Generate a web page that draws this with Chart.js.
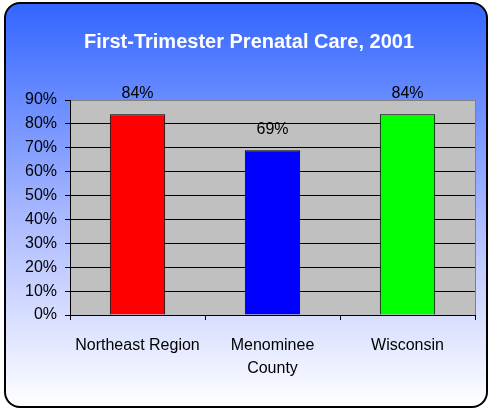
<!DOCTYPE html>
<html>
<head>
<meta charset="utf-8">
<script src="https://cdn.jsdelivr.net/npm/chart.js@4/dist/chart.umd.min.js"></script>
<style>
    html, body { margin: 0; padding: 0; background: #fff; }
    #frame {
        position: absolute; left: 4px; top: 2px;
        width: 480px; height: 402px;
        border: 2px solid #000; border-radius: 16px;
        background: linear-gradient(#3366ff 0%, #aebcff 55%, #ffffff 100%);
    }
    #wrap { position: absolute; left: 0; top: 0; width: 489px; height: 409px; }
</style>
</head>
<body>
<div id="frame"></div>
<div id="wrap"><canvas id="chart" width="489" height="409"></canvas></div>
<script>
// Chart data
const categories = ['Northeast Region', ['Menominee', 'County'], 'Wisconsin'];
const careValues = [84, 69, 84];
const barColors = ['#ff0000', '#0000ff', '#00ff00'];
const yTicks = [0, 10, 20, 30, 40, 50, 60, 70, 80, 90];

const FONT = 'Arial, "Liberation Sans", sans-serif';

// Gray plot background plus the gray right edge
const plotBackground = {
    id: 'plotBackground',
    beforeDraw: function(chart) {
        const a = chart.chartArea;
        const ctx = chart.ctx;
        ctx.save();
        ctx.fillStyle = '#c0c0c0';
        ctx.fillRect(a.left, a.top, a.right - a.left, a.bottom - a.top);
        ctx.strokeStyle = '#808080';
        ctx.lineWidth = 1;
        ctx.beginPath();
        ctx.moveTo(Math.round(a.right) + 0.5, a.top);
        ctx.lineTo(Math.round(a.right) + 0.5, a.bottom);
        ctx.stroke();
        ctx.restore();
    }
};

// Percent labels above each bar
const valueLabels = {
    id: 'valueLabels',
    afterDatasetsDraw: function(chart) {
        const ctx = chart.ctx;
        const meta = chart.getDatasetMeta(0);
        ctx.save();
        ctx.fillStyle = '#000';
        ctx.font = '16px ' + FONT;
        ctx.textAlign = 'center';
        ctx.textBaseline = 'bottom';
        meta.data.forEach((bar, i) => {
            ctx.fillText(careValues[i] + '%', bar.x, bar.y - 13);
        });
        ctx.restore();
    }
};

new Chart(document.getElementById('chart'), {
    type: 'bar',
    data: {
        labels: categories,
        datasets: [{
            data: careValues,
            backgroundColor: barColors,
            borderColor: '#000',
            borderWidth: 1,
            barPercentage: 0.41,
            categoryPercentage: 1
        }]
    },
    options: {
        responsive: false,
        animation: false,
        layout: { padding: { left: 23, right: 14, top: 0, bottom: 0 } },
        plugins: {
            legend: { display: false },
            tooltip: { enabled: false },
            title: {
                display: true,
                text: 'First-Trimester Prenatal Care, 2001',
                color: '#fff',
                font: { family: FONT, size: 20, weight: 'bold' },
                padding: { top: 30, bottom: 46 }
            }
        },
        scales: {
            x: {
                offset: true,
                grid: {
                    offset: true,
                    drawOnChartArea: false,
                    drawTicks: true,
                    tickLength: 5,
                    tickColor: '#000'
                },
                border: { color: '#000', width: 1 },
                ticks: {
                    color: '#000',
                    padding: 14,
                    maxRotation: 0,
                    autoSkip: false,
                    font: { family: FONT, size: 16, lineHeight: 1.45 }
                },
                afterFit: function(scale) { scale.height = 94; }
            },
            y: {
                min: 0,
                max: 90,
                afterBuildTicks: function(scale) {
                    scale.ticks = yTicks.map(v => ({ value: v }));
                },
                grid: {
                    color: (c) => c.tick && c.tick.value === 90 ? '#808080' : '#000',
                    tickColor: '#000',
                    tickLength: 5
                },
                border: { color: '#000', width: 1 },
                ticks: {
                    color: '#000',
                    padding: 8,
                    font: { family: FONT, size: 16 },
                    callback: (v) => v + '%'
                },
                afterFit: function(scale) { scale.width = 47; }
            }
        }
    },
    plugins: [plotBackground, valueLabels]
});
</script>
</body>
</html>
